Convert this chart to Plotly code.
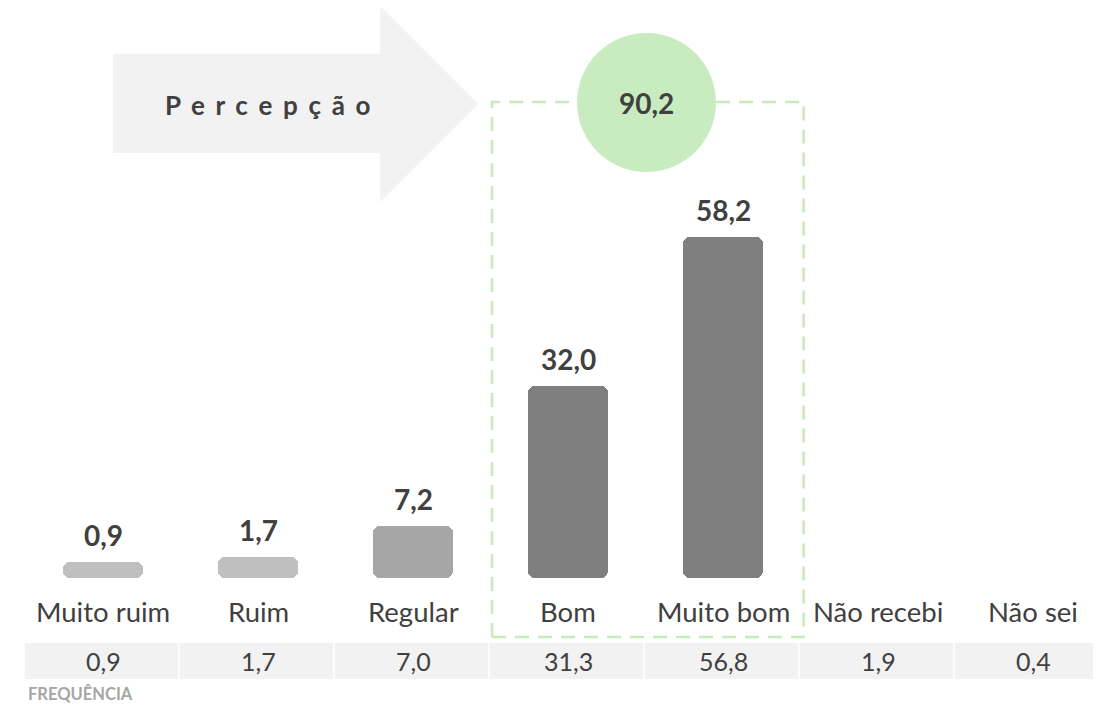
import plotly.graph_objects as go

# ---------------- data ----------------
categories = ["Muito ruim", "Ruim", "Regular", "Bom", "Muito bom", "Não recebi", "Não sei"]
perception = [0.9, 1.7, 7.2, 32.0, 58.2]          # bars (first five categories)
frequency = [0.9, 1.7, 7.0, 31.3, 56.8, 1.9, 0.4]  # table row
positive_total = 90.2                              # Bom + Muito bom
title_text = "Percepção"
row_label = "FREQUÊNCIA"

# ---------------- style ----------------
PAGE_OFF = 8                 # browser body margin
W, H = 1101 - PAGE_OFF, 705 - PAGE_OFF
bar_colors = ["#bfbfbf", "#bfbfbf", "#a6a6a6", "#7f7f7f", "#7f7f7f"]
dark = "#404040"
light_bg = "#f2f2f2"
green_fill = "#c8ecbf"
green_line = "#c6eabc"
FONT = "Lato"
BAR_FLOOR = -1.9  # bars start slightly below zero (as in the original)

# pixel layout of the original picture (x: category centre 103 + 155*i ; y: zero at 567, 5.672 px/unit)
X0_PX, X_STEP = 103, 155
Y0_PX, Y_SCALE = 567, 5.672


def fmt(v):
    return f"{v:.1f}".replace(".", ",")


def px(x):
    return (x - PAGE_OFF) / W


def py(y):
    return 1 - (y - PAGE_OFF) / H


xpos = list(range(len(categories)))
bar_x = xpos[:len(perception)]

fig = go.Figure()
fig.add_trace(go.Bar(
    x=bar_x,
    y=[v - BAR_FLOOR for v in perception],
    base=BAR_FLOOR,
    width=0.51,
    marker=dict(color=bar_colors, line=dict(width=0), cornerradius=7),
    hoverinfo="skip",
))

annotations = []
# value labels above bars
for x, v in zip(bar_x, perception):
    annotations.append(dict(
        x=x, y=v, xref="x", yref="y", text=f"<b>{fmt(v)}</b>",
        showarrow=False, xanchor="center", yanchor="bottom", yshift=8,
        font=dict(family=FONT, size=28, color=dark),
    ))
# category labels
for x, c in zip(xpos, categories):
    annotations.append(dict(
        x=x, y=py(611), xref="x", yref="paper", text=c,
        showarrow=False, xanchor="center", yanchor="middle",
        font=dict(family=FONT, size=27.5, color=dark),
    ))
# frequency row
shapes = []
for x, f in zip(xpos, frequency):
    shapes.append(dict(
        type="rect", xref="x", yref="paper",
        x0=x - 0.505, x1=x + 0.485, y0=py(679), y1=py(643),
        fillcolor=light_bg, line=dict(width=0), layer="below",
    ))
    annotations.append(dict(
        x=x, y=py(661), xref="x", yref="paper", text=fmt(f),
        showarrow=False, xanchor="center", yanchor="middle",
        font=dict(family=FONT, size=25, color=dark),
    ))
annotations.append(dict(
    x=px(26), y=py(694), xref="paper", yref="paper", text=f"<b>{row_label}</b>",
    showarrow=False, xanchor="left", yanchor="middle",
    font=dict(family=FONT, size=16.5, color="#a6a6a6"),
))

# arrow
arrow_pts = [(113, 54), (380, 54), (380, 6), (478, 104), (380, 202), (380, 153), (113, 153)]
path = "M " + " L ".join(f"{px(a):.5f},{py(b):.5f}" for a, b in arrow_pts) + " Z"
shapes.append(dict(type="path", xref="paper", yref="paper", path=path,
                   fillcolor=light_bg, line=dict(width=0), layer="below"))
annotations.append(dict(
    x=px(268), y=py(105), xref="paper", yref="paper",
    text="<b>" + "\u00a0\u2006".join(title_text) + "</b>",
    showarrow=False, xanchor="center", yanchor="middle",
    font=dict(family=FONT, size=26, color=dark),
))

# dashed highlight box around Bom / Muito bom
shapes.append(dict(
    type="rect", xref="x", yref="paper",
    x0=2.51, x1=4.52, y0=py(637), y1=py(102),
    fillcolor="rgba(0,0,0,0)", line=dict(color=green_line, width=2.5, dash="14px,9px"),
    layer="above",
))
# circle with total
shapes.append(dict(
    type="circle", xref="paper", yref="paper",
    x0=px(577), x1=px(716), y0=py(172), y1=py(33),
    fillcolor=green_fill, line=dict(width=0), layer="above",
))
annotations.append(dict(
    x=px(646.5), y=py(103), xref="paper", yref="paper", text=f"<b>{fmt(positive_total)}</b>",
    showarrow=False, xanchor="center", yanchor="middle",
    font=dict(family=FONT, size=28, color=dark),
))

fig.update_layout(
    width=W, height=H,
    margin=dict(l=0, r=0, t=0, b=0),
    paper_bgcolor="white", plot_bgcolor="white",
    showlegend=False,
    xaxis=dict(range=[(PAGE_OFF - X0_PX) / X_STEP, (1101 - X0_PX) / X_STEP],
               visible=False, fixedrange=True),
    yaxis=dict(range=[-(705 - Y0_PX) / Y_SCALE, (Y0_PX - PAGE_OFF) / Y_SCALE],
               visible=False, fixedrange=True),
    shapes=shapes,
    annotations=annotations,
    bargap=0,
)

fig.write_html("out.html")
